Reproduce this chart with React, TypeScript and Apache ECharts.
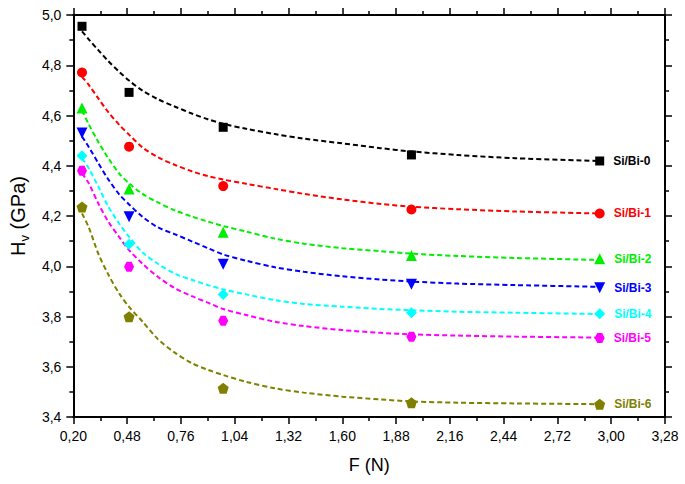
import React, { useEffect, useRef } from "react";
import * as echarts from "echarts";

const SERIES_NAMES = ["Si/Bi-0", "Si/Bi-1", "Si/Bi-2", "Si/Bi-3", "Si/Bi-4", "Si/Bi-5", "Si/Bi-6"];
const COLORS = ["#000000", "#ff0000", "#00ee00", "#0000ff", "#00ffff", "#ff00ff", "#808000"];

// measured points
const F_POINTS = [0.245, 0.49, 0.98, 1.96, 2.94];
const HV_0 = [4.955, 4.692, 4.553, 4.443, 4.419];
const HV_1 = [4.771, 4.476, 4.319, 4.226, 4.21];
const HV_2 = [4.63, 4.307, 4.135, 4.043, 4.03];
const HV_3 = [4.53, 4.197, 4.008, 3.928, 3.914];
const HV_4 = [4.44, 4.088, 3.888, 3.815, 3.811];
const HV_5 = [4.38, 3.998, 3.783, 3.719, 3.714];
const HV_6 = [4.236, 3.799, 3.514, 3.457, 3.451];

// fitted curves
const FIT_F = [0.245, 0.28, 0.33, 0.38, 0.44, 0.49, 0.56, 0.64, 0.73, 0.82, 0.9, 0.98, 1.1, 1.25, 1.4, 1.6, 1.8, 1.96, 2.2, 2.5, 2.94];
const FIT_0 = [4.935, 4.903, 4.86, 4.818, 4.773, 4.739, 4.699, 4.665, 4.635, 4.607, 4.585, 4.567, 4.547, 4.526, 4.508, 4.489, 4.47, 4.457, 4.443, 4.43, 4.419];
const FIT_1 = [4.755, 4.722, 4.668, 4.615, 4.562, 4.524, 4.473, 4.434, 4.403, 4.377, 4.359, 4.345, 4.328, 4.308, 4.288, 4.266, 4.248, 4.237, 4.227, 4.218, 4.21];
const FIT_2 = [4.62, 4.565, 4.495, 4.432, 4.368, 4.33, 4.288, 4.254, 4.222, 4.197, 4.178, 4.16, 4.138, 4.11, 4.09, 4.072, 4.06, 4.05, 4.041, 4.033, 4.025];
const FIT_3 = [4.516, 4.475, 4.41, 4.348, 4.285, 4.246, 4.197, 4.155, 4.127, 4.098, 4.072, 4.047, 4.022, 3.996, 3.978, 3.96, 3.947, 3.939, 3.931, 3.925, 3.918];
const FIT_4 = [4.43, 4.39, 4.317, 4.24, 4.168, 4.117, 4.055, 4.01, 3.97, 3.945, 3.925, 3.908, 3.888, 3.865, 3.85, 3.839, 3.83, 3.825, 3.819, 3.815, 3.81];
const FIT_5 = [4.37, 4.33, 4.25, 4.18, 4.115, 4.064, 4.01, 3.958, 3.912, 3.88, 3.855, 3.83, 3.806, 3.779, 3.762, 3.746, 3.735, 3.729, 3.724, 3.72, 3.716];
const FIT_6 = [4.21, 4.155, 4.05, 3.97, 3.89, 3.838, 3.78, 3.71, 3.655, 3.613, 3.588, 3.567, 3.54, 3.514, 3.497, 3.481, 3.47, 3.462, 3.457, 3.454, 3.451];

const POINTS = [HV_0, HV_1, HV_2, HV_3, HV_4, HV_5, HV_6];
const FITS = [FIT_0, FIT_1, FIT_2, FIT_3, FIT_4, FIT_5, FIT_6];

const X_MIN = 0.2, X_MAX = 3.28, X_STEP = 0.28;
const Y_MIN = 3.4, Y_MAX = 5.0, Y_STEP = 0.2;

const PENTAGON = "path://M0,-1 L0.951,-0.309 L0.588,0.809 L-0.588,0.809 L-0.951,-0.309 Z";
const HEXAGON = "path://M-0.5,-0.866 L0.5,-0.866 L1,0 L0.5,0.866 L-0.5,0.866 L-1,0 Z";
const SYMBOLS = ["rect", "circle", "triangle", "triangle", "diamond", HEXAGON, PENTAGON];
const SYMBOL_SIZES = [9, 10, 11, 11, 11, 10, 11];
const SYMBOL_ROTATE = [0, 0, 0, 180, 0, 0, 0];

const FONT = "Liberation Sans, Arial, sans-serif";

export default function App() {
  const ref = useRef<HTMLDivElement>(null);
  useEffect(() => {
    if (!ref.current) return;
    const chart = echarts.init(ref.current, undefined, { renderer: "svg" });
    const axisLine = { show: true, onZero: false, lineStyle: { color: "#000", width: 2 } };
    const axisTick = { show: true, inside: false, length: 7, lineStyle: { color: "#000", width: 1.5 } };
    const minorTick = { show: true, splitNumber: 2, length: 4, lineStyle: { color: "#000", width: 1.5 } };
    const lineSeries = FITS.map((fit, i) => ({
      type: "line",
      name: SERIES_NAMES[i] + " fit",
      data: FIT_F.map((f, k) => [f, fit[k]]),
      showSymbol: false,
      smooth: 0.3,
      lineStyle: { color: COLORS[i], width: 2, type: [5, 3] },
      z: 2,
      silent: true,
    }));
    const scatterSeries = POINTS.map((pts, i) => ({
      type: "scatter",
      name: SERIES_NAMES[i],
      symbol: SYMBOLS[i],
      symbolSize: SYMBOL_SIZES[i],
      symbolRotate: SYMBOL_ROTATE[i],
      itemStyle: { color: COLORS[i], opacity: 1 },
      z: 3,
      data: F_POINTS.map((f, k) => ({
        value: [f, pts[k]],
        label:
          k === F_POINTS.length - 1
            ? {
                show: true,
                position: "right",
                distance: 9,
                formatter: SERIES_NAMES[i],
                color: COLORS[i],
                fontFamily: FONT,
                fontWeight: "bold",
                fontSize: 12,
              }
            : { show: false },
      })),
    }));
    chart.setOption({
      animation: false,
      backgroundColor: "#fff",
      grid: { left: 73, right: 20, top: 15, bottom: 67, containLabel: false },
      xAxis: [
        {
          type: "value",
          position: "bottom",
          min: X_MIN,
          max: X_MAX,
          interval: X_STEP,
          name: "F (N)",
          nameLocation: "middle",
          nameGap: 39,
          nameTextStyle: { fontFamily: FONT, fontSize: 18, color: "#000" },
          axisLine,
          axisTick,
          minorTick,
          splitLine: { show: false },
          axisLabel: {
            fontFamily: FONT,
            fontSize: 14,
            color: "#000",
            margin: 12,
            formatter: (v: number) => v.toFixed(2).replace(".", ","),
          },
        },
        {
          type: "value",
          position: "top",
          min: X_MIN,
          max: X_MAX,
          interval: X_STEP,
          axisLine,
          axisTick,
          minorTick,
          splitLine: { show: false },
          axisLabel: { show: false },
        },
      ],
      yAxis: [
        {
          type: "value",
          position: "left",
          min: Y_MIN,
          max: Y_MAX,
          interval: Y_STEP,
          name: "{m|H}{s|v}{m| (GPa)}",
          nameLocation: "middle",
          nameGap: 42,
          nameRotate: 90,
          nameTextStyle: {
            rich: {
              m: { fontFamily: FONT, fontSize: 20, color: "#000", lineHeight: 26, verticalAlign: "middle" },
              s: { fontFamily: FONT, fontSize: 13, color: "#000", lineHeight: 26, verticalAlign: "bottom", padding: [9, 0, 0, 0] },
            },
          },
          axisLine,
          axisTick,
          minorTick,
          splitLine: { show: false },
          axisLabel: {
            fontFamily: FONT,
            fontSize: 14,
            color: "#000",
            margin: 12,
            formatter: (v: number) => v.toFixed(1).replace(".", ","),
          },
        },
        {
          type: "value",
          position: "right",
          min: Y_MIN,
          max: Y_MAX,
          interval: Y_STEP,
          axisLine,
          axisTick,
          minorTick,
          splitLine: { show: false },
          axisLabel: { show: false },
        },
      ],
      series: [...lineSeries, ...scatterSeries],
    });
    return () => chart.dispose();
  }, []);
  return (
    <div
      ref={ref}
      style={{ position: "absolute", left: 0, top: 0, width: 685, height: 484, background: "#fff" }}
    />
  );
}
